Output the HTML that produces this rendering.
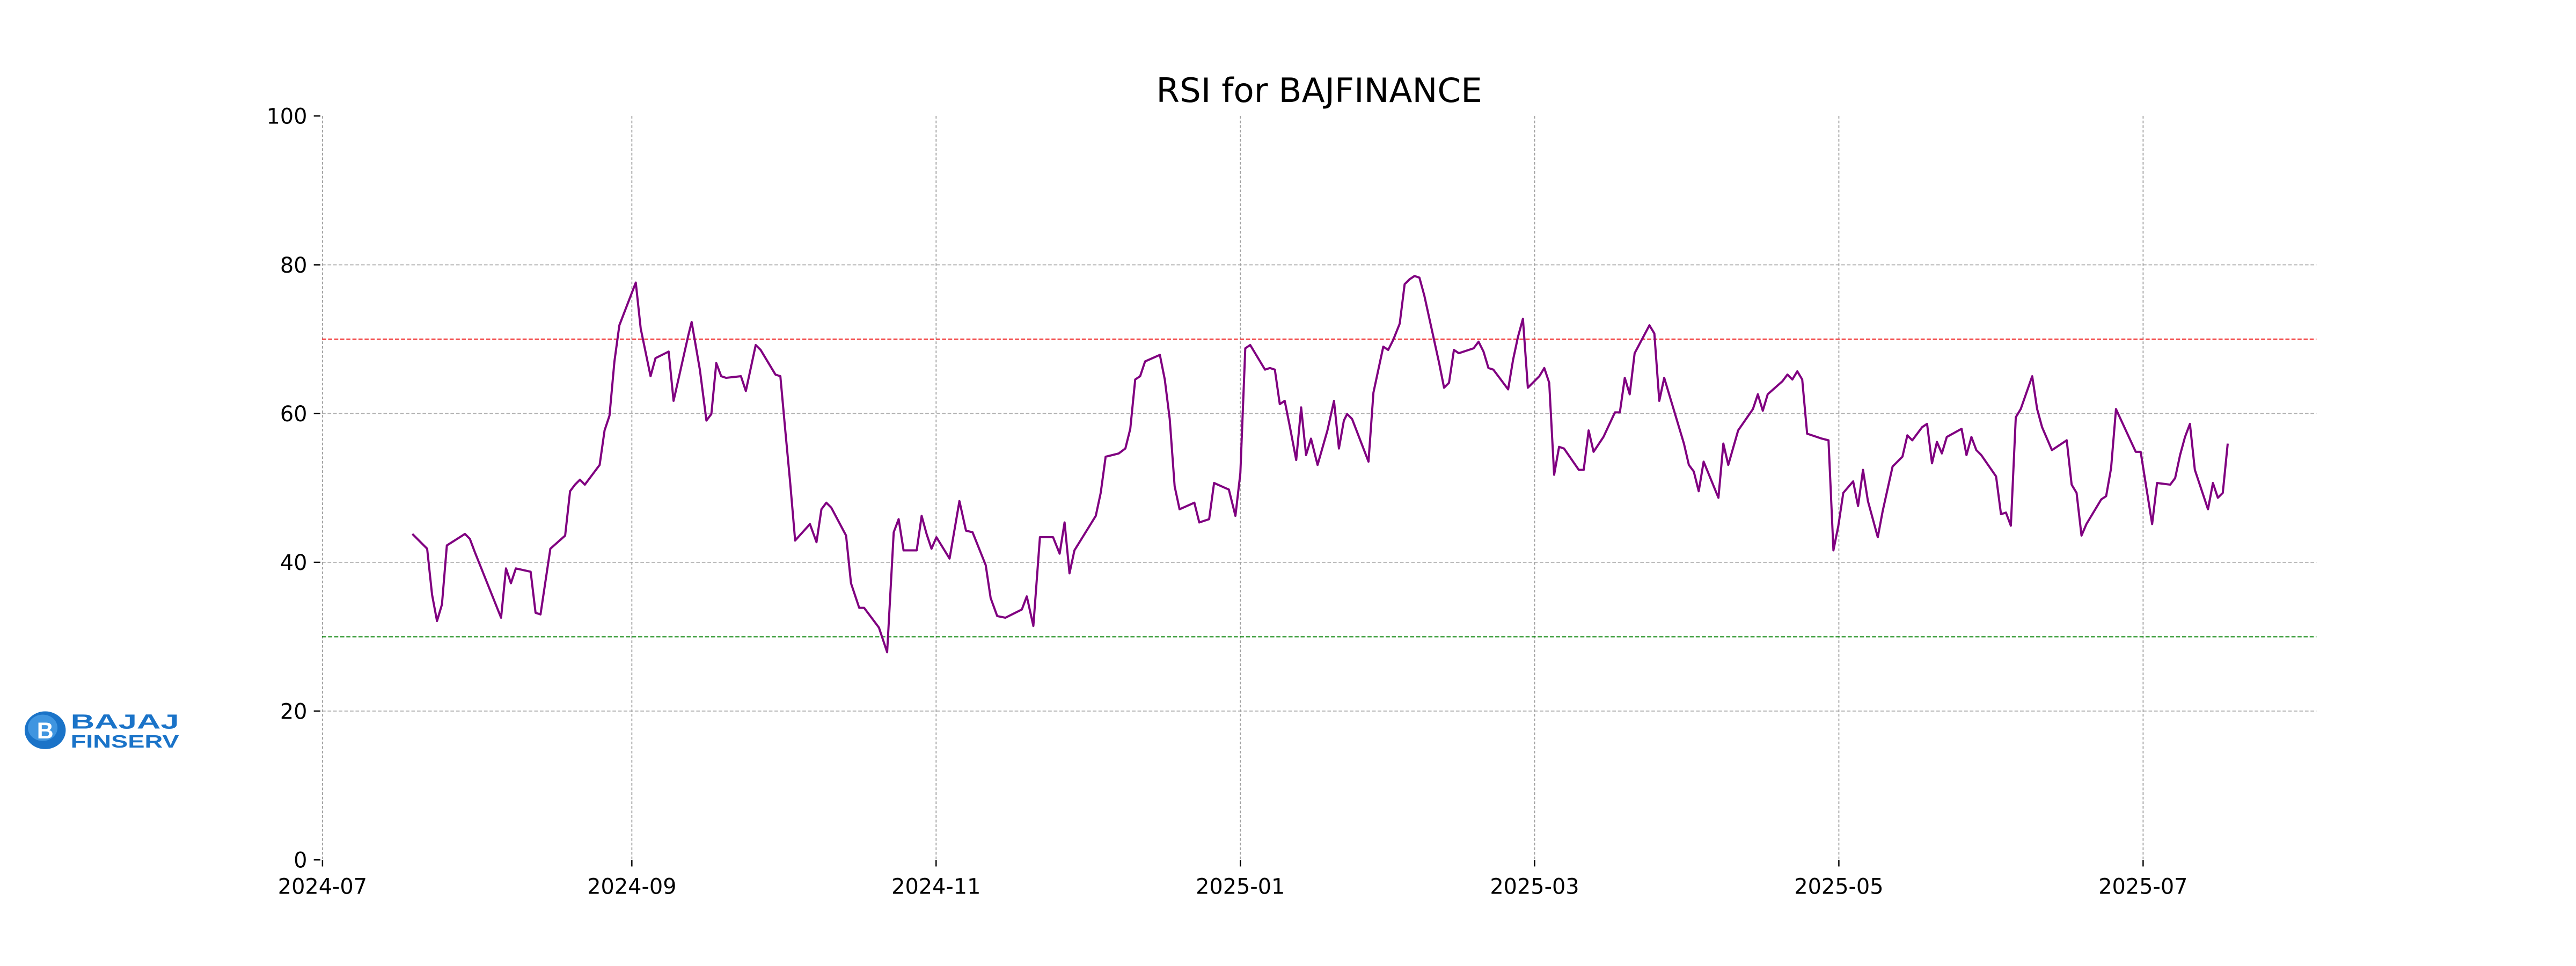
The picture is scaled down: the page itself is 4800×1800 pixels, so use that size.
<!DOCTYPE html>
<html><head><meta charset="utf-8"><style>html,body{margin:0;padding:0;background:#fff}svg{display:block}</style></head>
<body>
<svg width="4800" height="1800" viewBox="0 0 1568 588" xmlns="http://www.w3.org/2000/svg" font-family="'DejaVu Sans','Liberation Sans',sans-serif">
<rect width="1568" height="588" fill="#fff"/>
<text x="803" y="62" font-size="20.5" text-anchor="middle" fill="#000">RSI for BAJFINANCE</text>
<g stroke="#b0b0b0" stroke-width="0.6" stroke-dasharray="2.2,1.2">
<line x1="196" y1="432.8" x2="1410" y2="432.8"/>
<line x1="196" y1="342.3" x2="1410" y2="342.3"/>
<line x1="196" y1="251.7" x2="1410" y2="251.7"/>
<line x1="196" y1="161.2" x2="1410" y2="161.2"/>
</g>
<g stroke="#a0a0a0" stroke-width="0.6" stroke-dasharray="1.6,1.2">
<line x1="196.3" y1="70.6" x2="196.3" y2="523.4"/>
<line x1="384.6" y1="70.6" x2="384.6" y2="523.4"/>
<line x1="569.8" y1="70.6" x2="569.8" y2="523.4"/>
<line x1="755" y1="70.6" x2="755" y2="523.4"/>
<line x1="934.1" y1="70.6" x2="934.1" y2="523.4"/>
<line x1="1119.3" y1="70.6" x2="1119.3" y2="523.4"/>
<line x1="1304.5" y1="70.6" x2="1304.5" y2="523.4"/>
</g>
<line x1="196" y1="206.4" x2="1410" y2="206.4" stroke="#e00" stroke-width="0.6" stroke-dasharray="2.5,1.2"/>
<line x1="196" y1="387.6" x2="1410" y2="387.6" stroke="#008000" stroke-width="0.6" stroke-dasharray="2.5,1.2"/>
<g stroke="#000" stroke-width="0.8">
<line x1="191" y1="70.6" x2="195" y2="70.6"/><line x1="191" y1="161.2" x2="195" y2="161.2"/>
<line x1="191" y1="251.7" x2="195" y2="251.7"/><line x1="191" y1="342.3" x2="195" y2="342.3"/>
<line x1="191" y1="432.8" x2="195" y2="432.8"/><line x1="191" y1="523.4" x2="195" y2="523.4"/>
<line x1="196.3" y1="523.4" x2="196.3" y2="527.4"/><line x1="384.6" y1="523.4" x2="384.6" y2="527.4"/>
<line x1="569.8" y1="523.4" x2="569.8" y2="527.4"/><line x1="755" y1="523.4" x2="755" y2="527.4"/>
<line x1="934.1" y1="523.4" x2="934.1" y2="527.4"/><line x1="1119.3" y1="523.4" x2="1119.3" y2="527.4"/>
<line x1="1304.5" y1="523.4" x2="1304.5" y2="527.4"/>
</g>
<g font-size="13" fill="#000" text-anchor="end">
<text x="187" y="75.3">100</text><text x="187" y="165.9">80</text><text x="187" y="256.4">60</text>
<text x="187" y="347">40</text><text x="187" y="437.5">20</text><text x="187" y="528.1">0</text>
</g>
<g font-size="13" fill="#000" text-anchor="middle">
<text x="196.3" y="544">2024-07</text><text x="384.6" y="544">2024-09</text><text x="569.8" y="544">2024-11</text>
<text x="755" y="544">2025-01</text><text x="934.1" y="544">2025-03</text><text x="1119.3" y="544">2025-05</text>
<text x="1304.5" y="544">2025-07</text>
</g>
<polyline fill="none" stroke="#800080" stroke-width="1.3" stroke-linejoin="round" points="251,325 260,334 263,362 266,378 269,368 272,332 283,325 286,328 289,336 293,346 305,376 308,346 311,355 314,346 323,348 326,373 329,374 335,334 344,326 347,299 350,295 353,292 356,295 365,283 368,262 371,253 374,220 377,198 387,172 390,200 396,229 399,218 407,214 410,244 419,204 421,196 426,225 430,256 433,252 436,221 439,229 442,230 451,229 454,238 460,210 463,213 472,228 475,229 478,262 481,294 484,329 493,319 497,330 500,310 503,306 506,309 515,326 518,355 523,370 526,370 535,382 540,397 544,324 547,316 550,335 556,335 558,335 561,314 564,325 567,334 570,327 578,340 584,305 588,323 592,324 600,344 603,364 607,375 612,376 622,371 625,363 629,381 633,327 641,327 645,337 648,318 651,349 654,335 667,314 670,300 673,278 681,276 685,273 688,261 691,231 694,229 697,220 706,216 709,231 712,255 715,296 718,310 727,306 730,318 736,316 739,294 748,298 752,314 755,288 758,212 761,210 770,225 773,224 776,225 779,246 782,244 785,259 789,280 792,248 795,277 798,267 802,283 808,262 812,244 815,273 818,256 820,252 823,255 833,281 836,239 842,211 845,213 848,207 852,197 855,173 858,170 861,168 864,169 867,180 876,221 879,236 882,233 885,213 888,215 897,212 900,208 903,214 906,224 909,225 918,237 921,219 924,205 927,194 930,236 937,229 940,224 943,233 946,289 949,272 952,273 961,286 964,286 967,262 970,275 976,266 983,251 986,251 989,230 992,240 995,215 1004,198 1007,203 1010,244 1013,230 1025,270 1028,283 1031,287 1034,299 1037,281 1046,303 1049,270 1052,283 1058,262 1067,249 1070,240 1073,250 1076,240 1085,232 1088,228 1091,231 1094,226 1097,231 1100,264 1109,267 1113,268 1116,335 1119,320 1122,300 1128,293 1131,308 1134,286 1137,305 1143,327 1146,311 1152,284 1155,281 1158,278 1161,265 1164,268 1170,260 1173,258 1176,282 1179,269 1182,276 1185,266 1194,261 1197,277 1200,266 1203,274 1206,277 1215,290 1218,313 1221,312 1224,320 1227,254 1230,249 1237,229 1240,249 1243,260 1249,274 1258,268 1261,295 1264,300 1267,326 1270,319 1279,304 1282,302 1285,285 1288,249 1300,275 1303,275 1310,319 1313,294 1321,295 1324,291 1327,277 1330,266 1333,258 1336,286 1344,310 1347,294 1350,303 1353,300 1356,270"/>
<g>
<ellipse cx="27.5" cy="444.5" rx="12.5" ry="11.5" fill="#1a73c8"/>
<ellipse cx="26" cy="443" rx="9" ry="8" fill="#3f95e0"/>
<text x="27.5" y="449.5" font-size="14" font-weight="bold" fill="#fff" text-anchor="middle" font-family="'Liberation Sans',sans-serif">B</text>
<text x="43" y="443.5" font-size="12.5" font-weight="bold" fill="#1a73c8" font-family="'Liberation Sans',sans-serif" textLength="66" lengthAdjust="spacingAndGlyphs">BAJAJ</text>
<text x="43" y="455" font-size="11" font-weight="bold" fill="#1a73c8" font-family="'Liberation Sans',sans-serif" textLength="66" lengthAdjust="spacingAndGlyphs">FINSERV</text>
</g>
</svg>
</body></html>
